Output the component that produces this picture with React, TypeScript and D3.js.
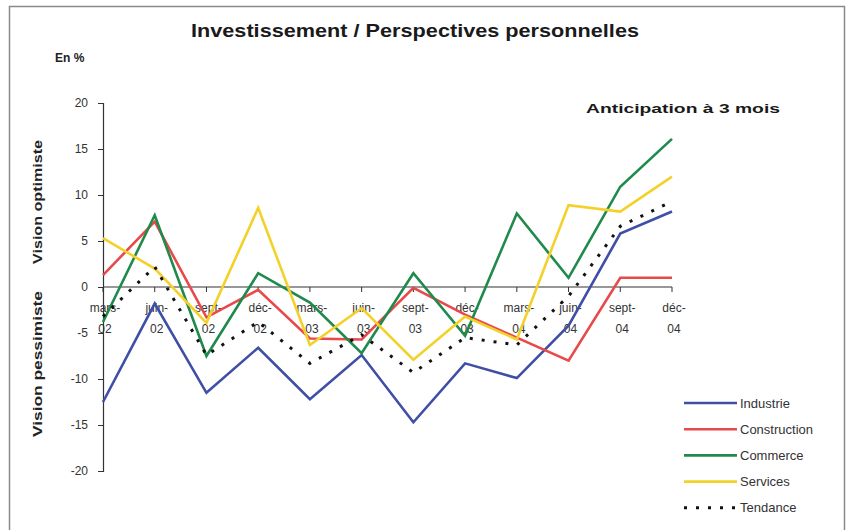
import React, { useEffect, useRef } from 'react';
import * as d3 from 'd3';

// période (trimestres)
const months = ['mars-02', 'juin-02', 'sept-02', 'déc-02', 'mars-03', 'juin-03', 'sept-03', 'déc-03', 'mars-04', 'juin-04', 'sept-04', 'déc-04'];

const industrie = [-12.5, -1.8, -11.5, -6.6, -12.2, -7.4, -14.7, -8.3, -9.9, -4.2, 5.8, 8.2];
const construction = [1.3, 7.1, -3.3, -0.3, -5.6, -5.7, -0.1, -3.0, -5.5, -8.0, 1.0, 1.0];
const commerce = [-3.8, 7.8, -7.5, 1.5, -1.7, -7.2, 1.5, -5.3, 8.0, 1.0, 10.9, 16.1];
const services = [5.3, 2.0, -3.9, 8.6, -6.3, -2.3, -7.9, -3.2, -5.7, 8.9, 8.2, 12.0];
const tendance = [-3.2, 2.2, -7.4, -3.8, -8.3, -5.2, -9.3, -5.5, -6.3, -1.0, 6.6, 9.3];

const yTicks = [20, 15, 10, 5, 0, -5, -10, -15, -20];

const series = [
  { name: 'Industrie', values: industrie, color: '#3f4fa6', dash: null },
  { name: 'Construction', values: construction, color: '#e8494a', dash: null },
  { name: 'Commerce', values: commerce, color: '#1f8a4c', dash: null },
  { name: 'Services', values: services, color: '#f4d12a', dash: null },
  { name: 'Tendance', values: tendance, color: '#111111', dash: '3,9' },
];

export default function App() {
  const svgRef = useRef<SVGSVGElement | null>(null);

  useEffect(() => {
    if (!svgRef.current) return;
    const svg = d3.select(svgRef.current);
    svg.selectAll('*').remove();

    const font = '"Liberation Sans", Arial, sans-serif';
    const left = 103, right = 672, top = 103, bottom = 471;

    const x = d3.scalePoint<string>().domain(months).range([left, right]);
    const y = d3.scaleLinear().domain([-20, 20]).range([bottom, top]);

    svg.append('rect')
      .attr('width', 848).attr('height', 530).attr('fill', '#fff');
    svg.append('rect')
      .attr('x', 9.5).attr('y', 6.5).attr('width', 835).attr('height', 530)
      .attr('fill', 'none').attr('stroke', '#8a8a8a').attr('stroke-width', 1.5);

    // titres
    svg.append('text')
      .attr('x', 415).attr('y', 37)
      .attr('text-anchor', 'middle')
      .attr('font-family', font).attr('font-weight', 'bold').attr('font-size', 18)
      .attr('textLength', 448).attr('lengthAdjust', 'spacingAndGlyphs')
      .attr('fill', '#1a1a1a')
      .text('Investissement / Perspectives personnelles');

    svg.append('text')
      .attr('x', 55).attr('y', 62)
      .attr('font-family', font).attr('font-weight', 'bold').attr('font-size', 12)
      .attr('fill', '#222')
      .text('En %');

    svg.append('text')
      .attr('x', 586).attr('y', 113)
      .attr('font-family', font).attr('font-weight', 'bold').attr('font-size', 13)
      .attr('textLength', 194).attr('lengthAdjust', 'spacingAndGlyphs')
      .attr('fill', '#1a1a1a')
      .text('Anticipation à 3 mois');

    svg.append('text')
      .attr('transform', 'translate(42, 202) rotate(-90)')
      .attr('text-anchor', 'middle')
      .attr('font-family', font).attr('font-weight', 'bold').attr('font-size', 12)
      .attr('textLength', 124).attr('lengthAdjust', 'spacingAndGlyphs')
      .attr('fill', '#222')
      .text('Vision optimiste');

    svg.append('text')
      .attr('transform', 'translate(42, 364) rotate(-90)')
      .attr('text-anchor', 'middle')
      .attr('font-family', font).attr('font-weight', 'bold').attr('font-size', 12)
      .attr('textLength', 146).attr('lengthAdjust', 'spacingAndGlyphs')
      .attr('fill', '#222')
      .text('Vision pessimiste');

    // axe vertical
    const yAxis = svg.append('g')
      .attr('transform', `translate(${left}, 0)`)
      .call(d3.axisLeft(y).tickValues(yTicks).tickSize(5).tickPadding(10).tickFormat(d => `${d}`));
    yAxis.select('.domain').attr('stroke', '#333').attr('stroke-width', 1.2);
    yAxis.selectAll('.tick line').attr('stroke', '#333');
    yAxis.selectAll('text')
      .attr('font-family', font).attr('font-size', 12).attr('fill', '#333');

    // axe horizontal (à zéro)
    svg.append('line')
      .attr('x1', left).attr('x2', right)
      .attr('y1', y(0)).attr('y2', y(0))
      .attr('stroke', '#333').attr('stroke-width', 1.2);
    svg.append('g').selectAll('line')
      .data(months)
      .join('line')
      .attr('x1', d => x(d)!).attr('x2', d => x(d)!)
      .attr('y1', y(0)).attr('y2', y(0) + 5)
      .attr('stroke', '#333');

    const lbl = svg.append('g')
      .attr('font-family', font).attr('font-size', 12).attr('fill', '#333')
      .attr('text-anchor', 'middle');
    months.forEach(m => {
      const [mo, yr] = m.split('-');
      lbl.append('text').attr('x', x(m)! + 2).attr('y', y(0) + 25).text(`${mo}-`);
      lbl.append('text').attr('x', x(m)! + 2).attr('y', y(0) + 46).text(yr);
    });

    // courbes
    const line = d3.line<number>()
      .x((_, i) => x(months[i])!)
      .y(d => y(d));

    series.forEach(s => {
      const p = svg.append('path')
        .datum(s.values)
        .attr('d', line)
        .attr('fill', 'none')
        .attr('stroke', s.color)
        .attr('stroke-width', s.dash ? 3 : 2.6)
        .attr('stroke-linejoin', 'miter');
      if (s.dash) p.attr('stroke-dasharray', s.dash);
    });

    // légende
    const legend = svg.append('g')
      .selectAll('g')
      .data(series)
      .join('g')
      .attr('transform', (_, i) => `translate(684, ${403 + i * 26.2})`);

    legend.append('line')
      .attr('x1', 0).attr('x2', 53)
      .attr('stroke', d => d.color)
      .attr('stroke-width', d => (d.dash ? 3 : 2.6))
      .attr('stroke-dasharray', d => d.dash ?? null);

    legend.append('text')
      .attr('x', 56).attr('dy', '0.35em')
      .attr('font-family', font).attr('font-size', 13).attr('fill', '#333')
      .text(d => d.name);
  }, []);

  return (
    <svg
      ref={svgRef}
      width={848}
      height={530}
      style={{ position: 'absolute', left: 0, top: 0, display: 'block' }}
    />
  );
}
